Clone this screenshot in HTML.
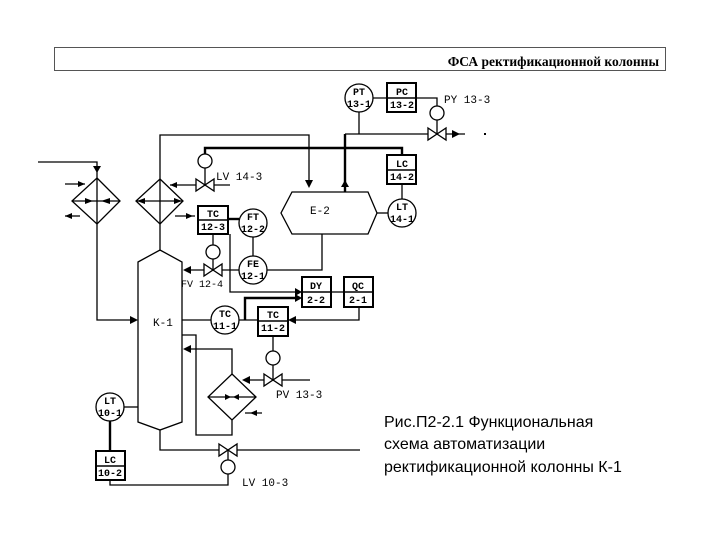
<!DOCTYPE html>
<html><head><meta charset="utf-8"><style>
body{margin:0;background:#fff;width:720px;height:540px;overflow:hidden}
svg{display:block}
.t{font-family:"Liberation Mono",monospace;font-size:10px;fill:#000;font-weight:bold}
.l{font-family:"Liberation Mono",monospace;font-size:11px;fill:#000}
</style></head><body>
<svg width="720" height="540" viewBox="0 0 720 540" xmlns="http://www.w3.org/2000/svg">
<rect x="54.5" y="47.5" width="611" height="23" fill="none" stroke="#555" stroke-width="1"/>
<text x="659" y="66" text-anchor="end" font-family="Liberation Serif,serif" font-weight="bold" font-size="13.5">ФСА ректификационной колонны</text>

<g stroke="#000" stroke-width="1.3" fill="none">
<polyline points="38,162 97,162 97,320 132,320"/>
<polygon points="97,178 120,201 97,224 72,201"/>
<line x1="72" y1="201" x2="120" y2="201"/>
<line x1="65" y1="184" x2="85" y2="184"/>
<line x1="65" y1="216" x2="80" y2="216"/>
<polyline points="160,250 160,135 309,135 309,185"/>
<polygon points="160,179 183,201 160,224 136,201"/>
<line x1="136" y1="201" x2="183" y2="201"/>
<line x1="170" y1="185" x2="230" y2="185"/>
<line x1="175" y1="216" x2="195" y2="216"/>
<circle cx="205" cy="161" r="7"/>
<line x1="205" y1="168" x2="205" y2="185"/>
<polyline points="345,134 432,134"/>
<line x1="446" y1="134" x2="465" y2="134"/>
<polygon points="292,192 368,192 377,213 368,234 292,234 281,213"/>
<line x1="377" y1="213" x2="388" y2="213"/>
<circle cx="359" cy="98" r="14"/>
<line x1="359" y1="112" x2="359" y2="134"/>
<polyline points="373,98 437,98 437,106"/>
<circle cx="437" cy="113" r="7"/>
<line x1="437" y1="120" x2="437" y2="134"/>
<line x1="402" y1="184" x2="402" y2="199"/>
<circle cx="402" cy="213" r="14"/>
<circle cx="253" cy="223" r="14"/>
<circle cx="253" cy="270" r="14"/>
<line x1="253" y1="237" x2="253" y2="256"/>
<circle cx="213" cy="252" r="7"/>
<line x1="213" y1="234" x2="213" y2="245"/>
<line x1="213" y1="259" x2="213" y2="270"/>
<line x1="186" y1="270" x2="239" y2="270"/>
<polyline points="267,270 322,270 322,234"/>
<polyline points="230,234 230,292 300,292"/>
<polygon points="138,262 160,250 182,262 182,422 160,430 138,422"/>
<line x1="331" y1="292" x2="344" y2="292"/>
<polyline points="359,307 359,320 290,320"/>
<line x1="182" y1="320" x2="211" y2="320"/>
<circle cx="225" cy="320" r="14"/>
<line x1="239" y1="320" x2="258" y2="320"/>
<line x1="273" y1="336" x2="273" y2="351"/>
<circle cx="273" cy="358" r="7"/>
<line x1="273" y1="365" x2="273" y2="380"/>
<line x1="244" y1="380" x2="310" y2="380"/>
<polygon points="232,374 256,397 232,420 208,397"/>
<line x1="208" y1="397" x2="256" y2="397"/>
<line x1="245" y1="413" x2="262" y2="413"/>
<polyline points="182,335 196,335 196,435 232,435 232,420"/>
<polyline points="232,374 232,349 188,349"/>
<polyline points="160,430 160,450 219,450"/>
<line x1="237" y1="450" x2="360" y2="450"/>
<circle cx="228" cy="467" r="7"/>
<line x1="228" y1="450" x2="228" y2="460"/>
<polyline points="228,474 228,485 110,485 110,480"/>
<circle cx="110" cy="407" r="14"/>
<line x1="124" y1="407" x2="138" y2="407"/>
</g>
<g stroke="#000" stroke-width="2" fill="#fff">
<rect x="387" y="83" width="29" height="29"/>
<rect x="387" y="155" width="29" height="29"/>
<rect x="198" y="206" width="30" height="28"/>
<rect x="302" y="277" width="29" height="30"/>
<rect x="344" y="277" width="29" height="30"/>
<rect x="258" y="307" width="30" height="29"/>
<rect x="96" y="451" width="29" height="29"/>
</g>
<g stroke="#000" stroke-width="2.4" fill="none">
<polyline points="205,154 205,148 402,148 402,155"/>
<polyline points="345,192 345,134"/>
<line x1="228" y1="219" x2="239" y2="219"/>
<polyline points="245,320 245,298 300,298"/>
<line x1="110" y1="421" x2="110" y2="451"/>
</g>
<g fill="#fff" stroke="#000" stroke-width="1.3">
<path d="M196,179 L214,191 L214,179 L196,191 Z"/>
<path d="M428,128 L446,140 L446,128 L428,140 Z"/>
<path d="M204,264 L222,276 L222,264 L204,276 Z"/>
<path d="M264,374 L282,386 L282,374 L264,386 Z"/>
<path d="M219,444 L237,456 L237,444 L219,456 Z"/>
</g>
<g stroke="#000" stroke-width="1.5">
<line x1="387" y1="98" x2="416" y2="98"/>
<line x1="387" y1="170" x2="416" y2="170"/>
<line x1="198" y1="220" x2="228" y2="220"/>
<line x1="302" y1="292" x2="331" y2="292"/>
<line x1="344" y1="292" x2="373" y2="292"/>
<line x1="258" y1="321" x2="288" y2="321"/>
<line x1="96" y1="466" x2="125" y2="466"/>
</g>
<g fill="#000">
<polygon points="93,166 101,166 97,173"/>
<polygon points="305,180 313,180 309,188"/>
<polygon points="341,187 349,187 345,180"/>
<polygon points="452,130 452,138 460,134"/>
<polygon points="78,181 78,187 85,184"/>
<polygon points="72,213 72,219 65,216"/>
<polygon points="85,198 85,204 93,201"/>
<polygon points="110,198 110,204 101,201"/>
<polygon points="145,198 145,204 137,201"/>
<polygon points="174,198 174,204 182,201"/>
<polygon points="177,182 177,188 170,185"/>
<polygon points="186,213 186,219 193,216"/>
<polygon points="130,316 130,324 138,320"/>
<polygon points="191,266 191,274 183,270"/>
<polygon points="295,288 295,296 302,292"/>
<polygon points="295,294 295,302 302,298"/>
<polygon points="296,316 296,324 288,320"/>
<polygon points="191,345 191,353 183,349"/>
<polygon points="250,376 250,384 242,380"/>
<polygon points="225,394 225,400 231,397"/>
<polygon points="239,394 239,400 233,397"/>
<polygon points="257,410 257,416 250,413"/>
<rect x="484" y="133" width="2" height="2"/>
</g>
<g class="t" text-anchor="middle">
<text x="359" y="95">PT</text><text x="359" y="107">13-1</text>
<text x="402" y="95">PC</text><text x="402" y="108">13-2</text>
<text x="402" y="167">LC</text><text x="402" y="180">14-2</text>
<text x="402" y="210">LT</text><text x="402" y="222">14-1</text>
<text x="213" y="217">TC</text><text x="213" y="230">12-3</text>
<text x="253" y="220">FT</text><text x="253" y="232">12-2</text>
<text x="253" y="267">FE</text><text x="253" y="279">12-1</text>
<text x="316" y="289">DY</text><text x="316" y="303">2-2</text>
<text x="358" y="289">QC</text><text x="358" y="303">2-1</text>
<text x="225" y="317">TC</text><text x="225" y="329">11-1</text>
<text x="273" y="318">TC</text><text x="273" y="331">11-2</text>
<text x="110" y="404">LT</text><text x="110" y="416">10-1</text>
<text x="110" y="463">LC</text><text x="110" y="476">10-2</text>
</g>
<g class="l">
<text x="216" y="180">LV 14-3</text>
<text x="444" y="103">PY 13-3</text>
<text x="310" y="214">E-2</text>
<text x="153" y="326">K-1</text>
<text x="181" y="287" font-size="10">FV 12-4</text>
<text x="276" y="398">PV 13-3</text>
<text x="242" y="486">LV 10-3</text>
</g>
<g font-family="Liberation Sans,sans-serif" font-size="16" fill="#000">
<text x="384" y="427">Рис.П2-2.1 Функциональная</text>
<text x="384" y="449">схема автоматизации</text>
<text x="384" y="472">ректификационной колонны К-1</text>
</g>
</svg>
</body></html>
